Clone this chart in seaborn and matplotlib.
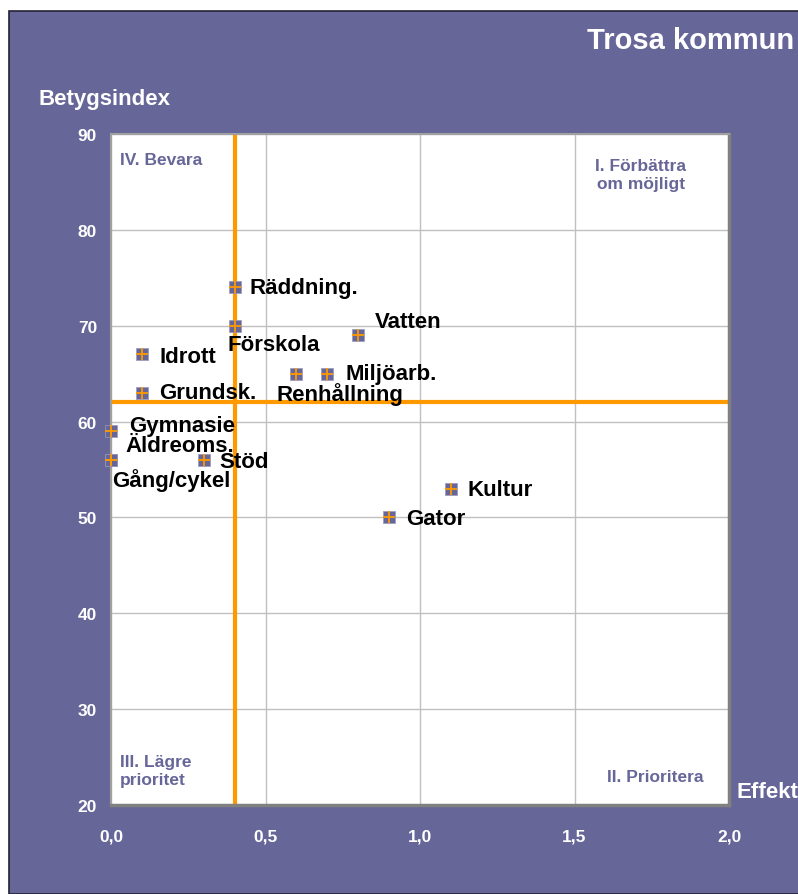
import matplotlib
matplotlib.use("Agg")
import matplotlib.pyplot as plt
import pandas as pd
import seaborn as sns
from matplotlib.patches import Rectangle

# data
labels = ["Räddning.", "Förskola", "Vatten", "Idrott", "Grundsk.", "Renhållning",
          "Miljöarb.", "Gymnasie", "Äldreoms.", "Gång/cykel", "Stöd", "Kultur", "Gator"]
effekt = [0.4, 0.4, 0.8, 0.1, 0.1, 0.6, 0.7, 0.0, 0.0, 0.0, 0.3, 1.1, 0.9]
betyg = [74, 70, 69, 67, 63, 65, 65, 59, 56, 56, 56, 53, 50]
effekt_mean = 0.4
betyg_mean = 62

x_ticks = [0.0, 0.5, 1.0, 1.5, 2.0]
x_ticklabels = ["0,0", "0,5", "1,0", "1,5", "2,0"]
y_ticks = [20, 30, 40, 50, 60, 70, 80, 90]

# label offsets in pixels (dx, dy), positive dy = up
offsets = {
    "Räddning.": (15, 0), "Förskola": (-7, -19), "Vatten": (17, 14),
    "Idrott": (18, -2), "Grundsk.": (17, 0), "Renhållning": (-20, -20),
    "Miljöarb.": (18, 0), "Gymnasie": (18, 6), "Äldreoms.": (14, 14),
    "Gång/cykel": (1, -20), "Stöd": (16, -2), "Kultur": (17, -1), "Gator": (17, -1),
}

PURPLE = "#666699"
ORANGE = "#FF9900"

sns.set_style("white")
plt.rcParams["font.family"] = ["Liberation Sans", "DejaVu Sans"]
plt.rcParams["font.weight"] = "bold"

df = pd.DataFrame({"label": labels, "effekt": effekt, "betyg": betyg})

W, H = 798, 895
fig = plt.figure(figsize=(W / 100, H / 100), dpi=100, facecolor="white")

# purple slide background with dark top/left border
fig.patches.append(Rectangle((9 / W, 0), 1, (H - 12) / H, transform=fig.transFigure,
                             facecolor=PURPLE, edgecolor="#222233", linewidth=1.2,
                             zorder=-5))

ax = fig.add_axes([111 / W, (H - 806) / H, 618 / W, 671 / H])
ax.set_zorder(1)
ax.set_facecolor("white")

ax.axvline(effekt_mean, color=ORANGE, lw=3, zorder=2)
ax.axhline(betyg_mean, color=ORANGE, lw=3, zorder=2)

sns.scatterplot(data=df, x="effekt", y="betyg", marker="s", s=68, color=PURPLE,
                edgecolor="#9999bb", linewidth=0.5, ax=ax, zorder=3, clip_on=False)
sns.scatterplot(data=df, x="effekt", y="betyg", marker="+", s=80, color=ORANGE,
                linewidth=1.3, ax=ax, zorder=4, clip_on=False)

for lab, xv, yv in zip(labels, effekt, betyg):
    dx, dy = offsets[lab]
    ax.annotate(lab, (xv, yv), xytext=(dx, dy), textcoords="offset pixels",
                ha="left", va="center", fontsize=16, fontweight="bold",
                color="black", zorder=5, annotation_clip=False)

ax.set_xlim(0, 2)
ax.set_ylim(20, 90)
ax.set_xticks(x_ticks)
ax.set_xticklabels(x_ticklabels)
ax.set_yticks(y_ticks)
ax.grid(True, color="#c0c0c0", lw=1)
ax.set_axisbelow(True)
ax.tick_params(length=0, labelcolor="white", labelsize=12.5)
ax.tick_params(axis="x", pad=17)
ax.tick_params(axis="y", pad=10)
for t in ax.get_xticklabels() + ax.get_yticklabels():
    t.set_fontweight("bold")
ax.set_xlabel("")
ax.set_ylabel("")
for side in ["top", "left"]:
    ax.spines[side].set_color("#a0a0a0")
    ax.spines[side].set_linewidth(1.5)
for side in ["right", "bottom"]:
    ax.spines[side].set_color("#808080")
    ax.spines[side].set_linewidth(2.5)

# quadrant labels
qkw = dict(transform=ax.transAxes, color=PURPLE, fontsize=12.5, fontweight="bold")
ax.text(0.014, 0.962, "IV. Bevara", ha="left", va="center", **qkw)
ax.text(0.857, 0.94, "I. Förbättra\nom möjligt", ha="center", va="center",
        linespacing=1.25, **qkw)
ax.text(0.014, 0.052, "III. Lägre\nprioritet", ha="left", va="center",
        linespacing=1.25, **qkw)
ax.text(0.88, 0.043, "II. Prioritera", ha="center", va="center", **qkw)

# titles and axis names
fig.text(587 / W, 1 - 41 / H, "Trosa kommun", color="white", fontsize=21,
         fontweight="bold", ha="left", va="center")
fig.text(38 / W, 1 - 100 / H, "Betygsindex", color="white", fontsize=16,
         fontweight="bold", ha="left", va="center")
fig.text(736 / W, 1 - 793 / H, "Effekt", color="white", fontsize=16,
         fontweight="bold", ha="left", va="center")

fig.savefig("out.png", dpi=100, facecolor=fig.get_facecolor())
